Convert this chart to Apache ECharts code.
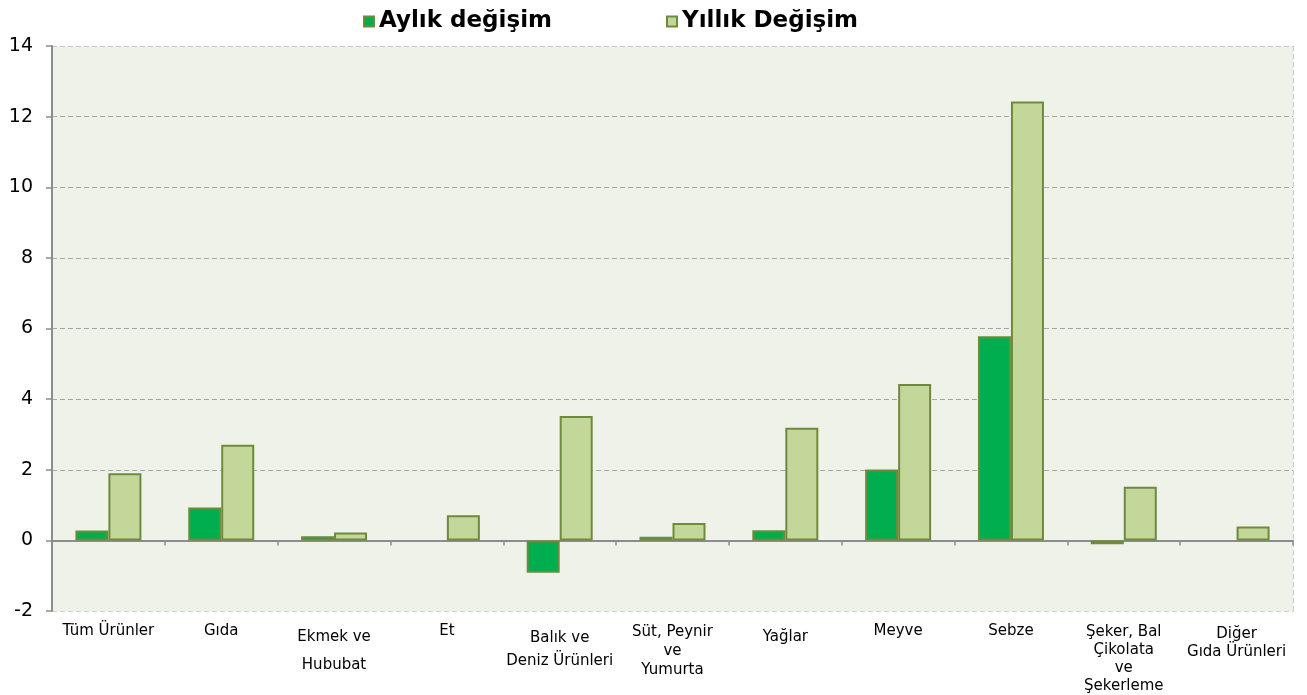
<!DOCTYPE html>
<html>
<head>
<meta charset="utf-8">
<script src="https://cdn.jsdelivr.net/npm/echarts@6/dist/echarts.min.js"></script>
<style>
  html, body { margin: 0; padding: 0; background: #fff; }
  #chart { width: 1307px; height: 695px; }
</style>
</head>
<body>
<div id="chart"></div>
<script>
// kategoriler
var categories = [
	'Tüm Ürünler',
	'Gıda',
	'Ekmek ve\nHububat',
	'Et',
	'Balık ve\nDeniz Ürünleri',
	'Süt, Peynir\nve\nYumurta',
	'Yağlar',
	'Meyve',
	'Sebze',
	'Şeker, Bal\nÇikolata\nve\nŞekerleme',
	'Diğer\nGıda Ürünleri'
];
var seriesNames = [ 'Aylık değişim', 'Yıllık Değişim' ];
// Et ve Diğer için aylık çubuk çizilmemiş
var aylik  = [ 0.28, 0.93, 0.12, null, -0.92, 0.1, 0.29, 2.01, 5.78, -0.11, null ];
var yillik = [ 1.9, 2.71, 0.22, 0.71, 3.52, 0.49, 3.19, 4.43, 12.43, 1.52, 0.39 ];
var yTicks = { min: -2, max: 14, interval: 2 };

// etiket satır aralıkları
var labelLine = [ 16, 16, 28, 16, 23, 19, 16, 16, 16, 18, 18 ];
var labelPad  = [ 0, 0, 0, 0, 4, 0, 6, 0, 0, 0, 2 ];
var labelCats = categories.map( function( c, i ){
	return {
		value: c,
		textStyle: {
			lineHeight: labelLine[i],
			padding: [ labelPad[i], 0, 0, 0 ]
		}
	};
});

// -2 çizgisi daha açık
var splitColors = [ '#D0D0D0', '#A8A8A8', '#A8A8A8', '#A8A8A8', '#A8A8A8', '#A8A8A8', '#A8A8A8', '#A8A8A8', '#C8C8C8' ];

var chart = echarts.init( document.getElementById( 'chart' ) );
chart.setOption({
	animation: false,
	textStyle: { fontFamily: 'DejaVu Sans' },
	legend: {
		top: 5,
		left: 358,
		itemWidth: 10,
		itemHeight: 10,
		itemGap: 114,
		icon: 'rect',
		data: seriesNames,
		textStyle: { fontSize: 23, fontWeight: 'bold', color: '#000', fontFamily: 'DejaVu Sans' }
	},
	grid: {
		left: 52,
		right: 14,
		top: 46,
		bottom: 83,
		show: true,
		backgroundColor: '#EFF2E8',
		borderWidth: 0
	},
	xAxis: [
		{
			type: 'category',
			data: categories,
			position: 'bottom',
			axisLine: { onZero: true, lineStyle: { color: '#8C8C8C', width: 2 } },
			axisTick: { show: true, interval: 0, length: 5, lineStyle: { color: '#8C8C8C', width: 1.5 } },
			axisLabel: { show: false },
			splitLine: { show: false }
		},
		{
			type: 'category',
			data: labelCats,
			position: 'bottom',
			axisLine: { show: false },
			axisTick: { show: false },
			axisLabel: { interval: 0, fontSize: 15, color: '#000', margin: 12, fontFamily: 'DejaVu Sans' }
		}
	],
	yAxis: [
		{
			type: 'value',
			min: yTicks.min,
			max: yTicks.max,
			interval: yTicks.interval,
			axisLine: { show: true, lineStyle: { color: '#8C8C8C', width: 2 } },
			axisTick: { show: true, length: 6, lineStyle: { color: '#8C8C8C', width: 1.5 } },
			axisLabel: { fontSize: 19, color: '#000', margin: 19, fontFamily: 'DejaVu Sans' },
			splitLine: { show: true, lineStyle: { color: splitColors, type: [ 5, 3 ], width: 1.2 } }
		},
		{
			type: 'value',
			position: 'right',
			min: yTicks.min,
			max: yTicks.max,
			interval: yTicks.interval,
			axisLine: { show: true, lineStyle: { color: '#D0D0D0', type: [ 5, 3 ], width: 1.2 } },
			axisTick: { show: false },
			axisLabel: { show: false },
			splitLine: { show: false }
		}
	],
	series: [
		{
			name: seriesNames[0],
			type: 'bar',
			xAxisIndex: 0,
			data: aylik,
			barWidth: 33,
			barGap: '0%',
			itemStyle: { color: '#00AE4F', borderColor: '#6E8B3D', borderWidth: 2 }
		},
		{
			name: seriesNames[1],
			type: 'bar',
			xAxisIndex: 0,
			data: yillik,
			barWidth: 33,
			barGap: '0%',
			itemStyle: { color: '#C4D79B', borderColor: '#6E8B3D', borderWidth: 2 }
		}
	]
});
</script>
</body>
</html>
